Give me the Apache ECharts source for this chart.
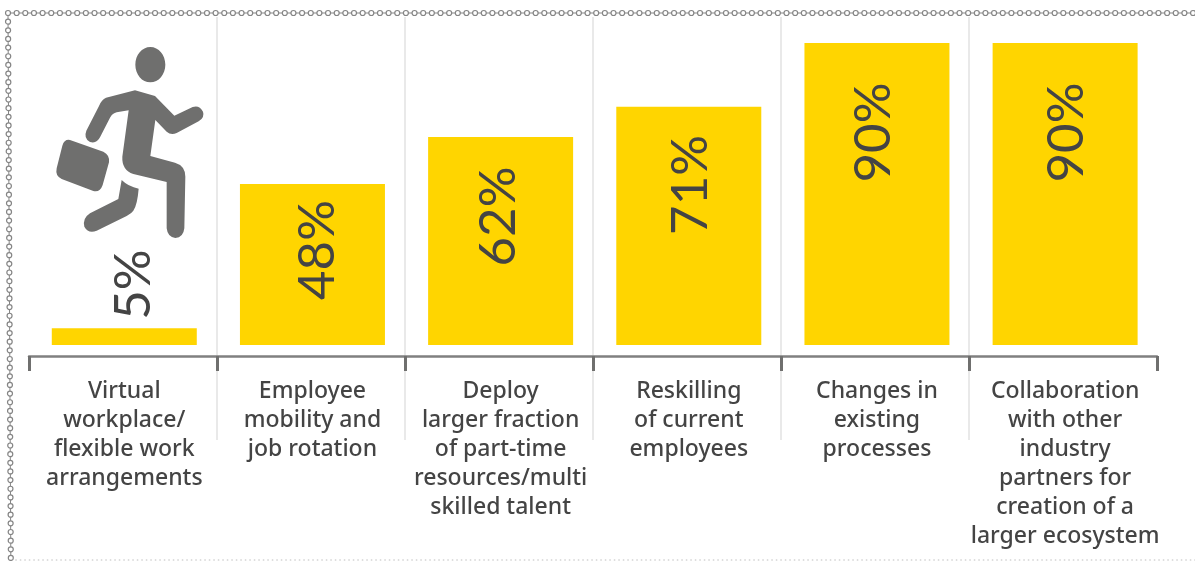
<!DOCTYPE html>
<html lang="en">

<head>
    <meta charset="UTF-8">
    <title>Workforce measures</title>
    <style>
        html, body { margin: 0; padding: 0; background: #fff; }
        #myChart { width: 1195px; height: 561px; }
    </style>
</head>

<body>
    <div id="myChart"></div>
    <script src="https://cdn.jsdelivr.net/npm/echarts@6/dist/echarts.min.js"></script>
    <script>
        const categories = [
            'Virtual\nworkplace/\nflexible work\narrangements',
            'Employee\nmobility and\njob rotation',
            'Deploy\nlarger fraction\nof part-time\nresources/multi\nskilled talent',
            'Reskilling\nof current\nemployees',
            'Changes in\nexisting\nprocesses',
            'Collaboration\nwith other\nindustry\npartners for\ncreation of a\nlarger ecosystem'
        ];
        const values = [5, 48, 62, 71, 90, 90];
        // label nudge from the middle of each bar. labels are rotated so this is [up, right] in px
        const labelOffsets = [[52, 9.5], [14.5, 5], [24.5, -2], [41, 2], [61.5, -3], [61.5, 1]];

        const textColor = '#444444';
        const markGray = '#6f6f6e';
        const chainGray = '#858585';

        // runner icon, drawn at 3x and scaled down
        const runnerPath =
            'M318 293L405 271L465 288L523 347L578 321Q598 314 609 335Q615 352 596 364L530 399Q513 407 500 395L466 360L451 468L525 488Q556 497 556 530L553 685Q550 713 526 714Q503 712 500 685L500 546L400 522Q365 510 367 470L386 331L350 337Q338 340 330 353L300 412Q290 432 270 426Q250 415 259 392L297 318Q305 298 318 293Z' +
            'M365 540Q385 560 416 566Q412 615 400 632Q395 640 380 648L290 692Q265 702 253 680Q247 655 270 640L355 597Z' +
            'M210 420L310 455Q330 465 327 487L308 555Q300 578 280 573L185 537Q165 528 170 505L187 437Q193 417 210 420Z' +
            'M451 141C476 141 496 165 496 194C496 223 476 247 451 247C426 247 406 223 406 194C406 165 426 141 451 141Z';
        echarts.graphic.registerShape('runner', echarts.graphic.extendPath(runnerPath, {}));

        // the beaded frame along the top and left, dotted along the bottom
        function frameParts() {
            const parts = [];
            const step = 8.65;
            const link = { stroke: chainGray, lineWidth: 1 };
            parts.push({ type: 'line', shape: { x1: 8, y1: 13, x2: 1195, y2: 13 }, style: link });
            parts.push({ type: 'line', shape: { x1: 8, y1: 13, x2: 10.8, y2: 556 }, style: link });
            parts.push({ type: 'line', shape: { x1: 10.8, y1: 560, x2: 1195, y2: 560 }, style: { stroke: '#bdbdbd', lineWidth: 1, lineDash: [1.5, 3] } });
            for (let x = 8; x < 1198; x += step) {
                parts.push({ type: 'circle', shape: { cx: x, cy: 13, r: 2.5 }, style: { fill: '#fff', stroke: chainGray, lineWidth: 1.2 } });
            }
            for (let y = 13 + step; y < 558; y += step) {
                parts.push({ type: 'circle', shape: { cx: 8 + (y - 13) * 2.8 / 543, cy: y, r: 2.5 }, style: { fill: '#fff', stroke: chainGray, lineWidth: 1.2 } });
            }
            return parts;
        }

        let myEchart = echarts.init(document.getElementById('myChart'));
        let option = {
            animation: false,
            backgroundColor: '#ffffff',
            graphic: [
                { type: 'group', silent: true, children: frameParts() },
                { type: 'runner', silent: true, scaleX: 1 / 3, scaleY: 1 / 3, style: { fill: markGray } }
            ],
            grid: [
                // bracket axis and the separators
                { left: 29, width: 1128, top: 17, height: 423 },
                // bars and category text
                { left: 30.2, width: 1129, top: 43, height: 302 }
            ],
            xAxis: [{
                gridIndex: 0,
                type: 'category',
                data: categories,
                offset: -84,
                axisLine: { lineStyle: { color: '#808080', width: 2.5 } },
                axisTick: { show: true, interval: 0, length: 15, lineStyle: { color: '#6f6f6e', width: 3 } },
                axisLabel: { show: false },
                splitLine: {
                    show: true,
                    showMinLine: false,
                    showMaxLine: false,
                    interval: 0,
                    lineStyle: { color: '#e2e2e2', width: 1.5 }
                }
            }, {
                gridIndex: 1,
                type: 'category',
                data: categories,
                axisLine: { show: false },
                axisTick: { show: false },
                axisLabel: {
                    interval: 0,
                    margin: 32,
                    color: textColor,
                    fontFamily: 'Noto Sans',
                    fontSize: 23,
                    fontWeight: 500,
                    lineHeight: 29,
                    align: 'center'
                }
            }],
            yAxis: [{
                gridIndex: 0,
                type: 'value',
                show: false
            }, {
                gridIndex: 1,
                type: 'value',
                min: 0,
                max: 90,
                show: false
            }],
            series: [{
                type: 'bar',
                xAxisIndex: 1,
                yAxisIndex: 1,
                barWidth: 145,
                itemStyle: { color: '#ffd500' },
                label: {
                    show: true,
                    position: 'inside',
                    rotate: 90,
                    color: textColor,
                    fontFamily: 'Lato',
                    fontSize: 51,
                    fontWeight: 400,
                    formatter: '{c}%'
                },
                data: values.map(function (v, i) {
                    return { value: v, label: { offset: labelOffsets[i] } };
                })
            }]
        };
        myEchart.setOption(option);
    </script>
</body>

</html>
